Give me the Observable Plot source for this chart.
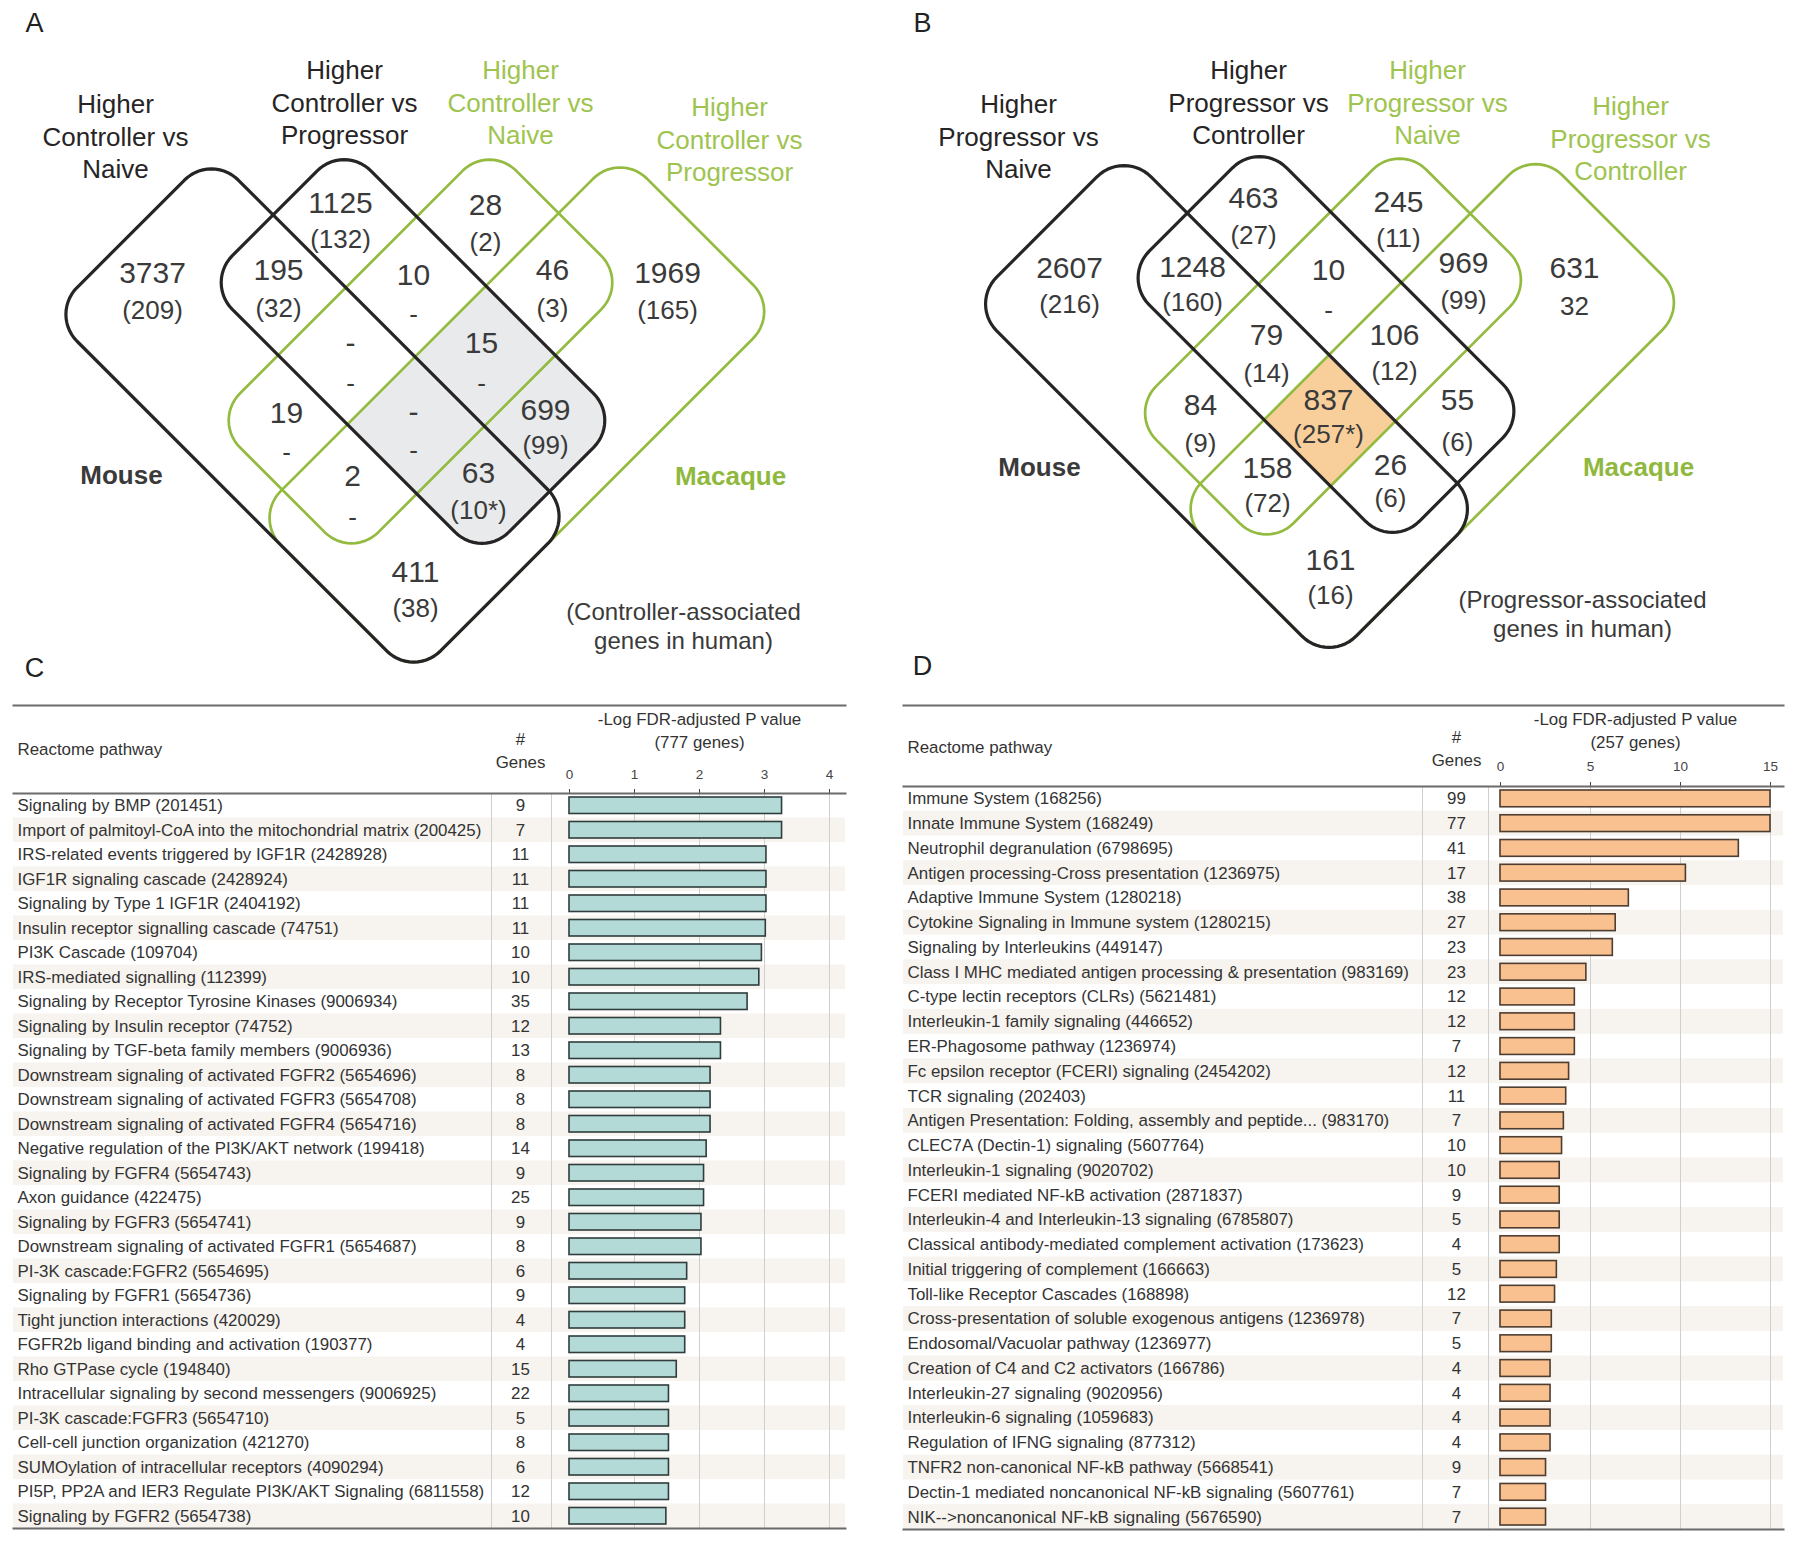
<!DOCTYPE html>
<html>
<head>
<meta charset="utf-8">
<script src="https://cdn.jsdelivr.net/npm/d3@7"></script>
<script src="https://cdn.jsdelivr.net/npm/@observablehq/plot@0.6"></script>
<style>
  html, body { margin: 0; padding: 0; background: #fff; }
  #root { position: relative; width: 1800px; height: 1547px; background: #fff; overflow: hidden; }
</style>
</head>
<body>
<div id="root"></div>
<script>
// ---------------- DATA ----------------
// Venn region order (sets 1..4 = mouse naive, mouse progressor/controller, macaque naive, macaque progressor/controller)
const vennRegions = ["1","2","3","4","1&2","2&3","3&4","1&2&3","2&3&4","1&3","1&2&3&4","2&4","1&3&4","1&2&4","1&4"];
// Venn A (controller-associated genes)
const vennACounts = ["3737","1125","28","1969","195","10","46","-","15","19","-","699","2","63","411"];
const vennAHuman  = ["(209)","(132)","(2)","(165)","(32)","-","(3)","-","-","-","-","(99)","-","(10*)","(38)"];
const vennASets   = ["Higher\nController vs\nNaive","Higher\nController vs\nProgressor","Higher\nController vs\nNaive","Higher\nController vs\nProgressor"];
// Venn B (progressor-associated genes)
const vennBCounts = ["2607","463","245","631","1248","10","969","79","106","84","837","55","158","26","161"];
const vennBHuman  = ["(216)","(27)","(11)","32","(160)","-","(99)","(14)","(12)","(9)","(257*)","(6)","(72)","(6)","(16)"];
const vennBSets   = ["Higher\nProgressor vs\nNaive","Higher\nProgressor vs\nController","Higher\nProgressor vs\nNaive","Higher\nProgressor vs\nController"];

// Panel C
const cNames = [
  "Signaling by BMP (201451)",
  "Import of palmitoyl-CoA into the mitochondrial matrix (200425)",
  "IRS-related events triggered by IGF1R (2428928)",
  "IGF1R signaling cascade (2428924)",
  "Signaling by Type 1 IGF1R (2404192)",
  "Insulin receptor signalling cascade (74751)",
  "PI3K Cascade (109704)",
  "IRS-mediated signalling (112399)",
  "Signaling by Receptor Tyrosine Kinases (9006934)",
  "Signaling by Insulin receptor (74752)",
  "Signaling by TGF-beta family members (9006936)",
  "Downstream signaling of activated FGFR2 (5654696)",
  "Downstream signaling of activated FGFR3 (5654708)",
  "Downstream signaling of activated FGFR4 (5654716)",
  "Negative regulation of the PI3K/AKT network (199418)",
  "Signaling by FGFR4 (5654743)",
  "Axon guidance (422475)",
  "Signaling by FGFR3 (5654741)",
  "Downstream signaling of activated FGFR1 (5654687)",
  "PI-3K cascade:FGFR2 (5654695)",
  "Signaling by FGFR1 (5654736)",
  "Tight junction interactions (420029)",
  "FGFR2b ligand binding and activation (190377)",
  "Rho GTPase cycle (194840)",
  "Intracellular signaling by second messengers (9006925)",
  "PI-3K cascade:FGFR3 (5654710)",
  "Cell-cell junction organization (421270)",
  "SUMOylation of intracellular receptors (4090294)",
  "PI5P, PP2A and IER3 Regulate PI3K/AKT Signaling (6811558)",
  "Signaling by FGFR2 (5654738)"
];
const cGenes = [9,7,11,11,11,11,10,10,35,12,13,8,8,8,14,9,25,9,8,6,9,4,4,15,22,5,8,6,12,10];
const cValues = [3.27,3.27,3.03,3.03,3.03,3.02,2.96,2.92,2.74,2.33,2.33,2.17,2.17,2.17,2.11,2.07,2.07,2.03,2.03,1.81,1.78,1.78,1.78,1.65,1.53,1.53,1.53,1.53,1.53,1.49];
const cTicks = [0,1,2,3,4];
const cTitle = "-Log FDR-adjusted P value\n(777 genes)";

// Panel D
const dNames = [
  "Immune System (168256)",
  "Innate Immune System (168249)",
  "Neutrophil degranulation (6798695)",
  "Antigen processing-Cross presentation (1236975)",
  "Adaptive Immune System (1280218)",
  "Cytokine Signaling in Immune system (1280215)",
  "Signaling by Interleukins (449147)",
  "Class I MHC mediated antigen processing & presentation (983169)",
  "C-type lectin receptors (CLRs) (5621481)",
  "Interleukin-1 family signaling (446652)",
  "ER-Phagosome pathway (1236974)",
  "Fc epsilon receptor (FCERI) signaling (2454202)",
  "TCR signaling (202403)",
  "Antigen Presentation: Folding, assembly and peptide... (983170)",
  "CLEC7A (Dectin-1) signaling (5607764)",
  "Interleukin-1 signaling (9020702)",
  "FCERI mediated NF-kB activation (2871837)",
  "Interleukin-4 and Interleukin-13 signaling (6785807)",
  "Classical antibody-mediated complement activation (173623)",
  "Initial triggering of complement (166663)",
  "Toll-like Receptor Cascades (168898)",
  "Cross-presentation of soluble exogenous antigens (1236978)",
  "Endosomal/Vacuolar pathway (1236977)",
  "Creation of C4 and C2 activators (166786)",
  "Interleukin-27 signaling (9020956)",
  "Interleukin-6 signaling (1059683)",
  "Regulation of IFNG signaling (877312)",
  "TNFR2 non-canonical NF-kB pathway (5668541)",
  "Dectin-1 mediated noncanonical NF-kB signaling (5607761)",
  "NIK-->noncanonical NF-kB signaling (5676590)"
];
const dGenes = [99,77,41,17,38,27,23,23,12,12,7,12,11,7,10,10,9,5,4,5,12,7,5,4,4,4,4,9,7,7];
const dValues = [15.0,15.0,13.24,10.3,7.13,6.4,6.24,4.77,4.13,4.13,4.13,3.81,3.65,3.52,3.42,3.29,3.29,3.29,3.29,3.13,3.03,2.85,2.85,2.78,2.78,2.78,2.78,2.53,2.53,2.53];
const dTicks = [0,5,10,15];
const dTitle = "-Log FDR-adjusted P value\n(257 genes)";

// ---------------- LAYOUT (positions, sizes, styles) ----------------
const FONT = "'Liberation Sans', Arial, Helvetica, sans-serif";
const BLACK = "#262424", GREEN = "#93bb40", GREEN_TEXT = "#9ec44f", NUM = "#3a3a3a";
const TABLE_FS = 16.9;
const SQ = Math.SQRT2;
// shape geometry: centre, half-length a (long axis), half-width b, corner radius r,
// m = +1 long axis runs down-right, m = -1 long axis runs down-left
function mirrorOnBottom(big, a, b, r) {
  // the outer macaque shape shares its bottom corner with the outer mouse shape
  const bx = big.cx + (big.a - big.b) / SQ, by = big.cy + (big.a + big.b) / SQ;
  return {cx: bx + (a - b) / SQ, cy: by - (a + b) / SQ, a, b, r, m: -1, color: GREEN};
}
const vennA1 = {cx: 312, cy: 415, a: 257, b: 114, r: 38, m: 1, color: BLACK};
const vennAShapes = [
  vennA1,
  {cx: 412.5, cy: 351, a: 195.5, b: 98, r: 38, m: 1, color: BLACK},
  {cx: 420, cy: 351, a: 195.5, b: 98, r: 38, m: -1, color: GREEN},
  mirrorOnBottom(vennA1, 259, 113, 38)
];
const vennB1 = {cx: 1226, cy: 406, a: 254, b: 109, r: 38, m: 1, color: BLACK};
const vennBShapes = [
  vennB1,
  {cx: 1325.5, cy: 344, a: 191, b: 97, r: 38, m: 1, color: BLACK},
  {cx: 1332.5, cy: 346, a: 191, b: 97, r: 38, m: -1, color: GREEN},
  mirrorOnBottom(vennB1, 255, 109, 38)
];
// [x, y line1, y line2]
const vennAPos = [[152,273,310],[340,203,239],[485,205,242],[667,273,310],[278,270,308],[413,275,314],[552,270,308],[350,343,383],[481,343,383],[286,413,452],[413,412,450],[545,410,445],[352,476,517],[478,473,510],[415,572,608]];
const vennBPos = [[1069,268,304],[1253,198,235],[1398,202,238],[1574,268,306],[1192,267,302],[1328,270,310],[1463,263,300],[1266,335,373],[1394,335,371],[1200,405,443],[1328,400,434],[1457,400,442],[1267,468,503],[1390,465,498],[1330,560,595]];
const vennASetPos = [[115,135],[344,101],[520,101],[729,138]];
const vennBSetPos = [[1018,135],[1248,101],[1427,101],[1630,137]];
const setColors = [BLACK, BLACK, GREEN_TEXT, GREEN_TEXT];

// ---------------- GEOMETRY HELPERS ----------------
function roundedRect({cx, cy, a, b, r, m}) {
  const n = 14, pts = [];
  const corners = [[a - r, b - r, 0], [-(a - r), b - r, 90], [-(a - r), -(b - r), 180], [a - r, -(b - r), 270]];
  for (const [sc, tc, start] of corners) {
    for (let k = 0; k <= n; k++) {
      const ang = (start + 90 * k / n) * Math.PI / 180;
      const s = sc + r * Math.cos(ang), t = tc + r * Math.sin(ang);
      pts.push([cx + m * (s + t) / SQ, cy + (s - t) / SQ]);
    }
  }
  return pts;
}
function clipPoly(subject, clip) {
  let area = 0;
  for (let i = 0; i < clip.length; i++) {
    const p = clip[i], q = clip[(i + 1) % clip.length];
    area += p[0] * q[1] - q[0] * p[1];
  }
  const sgn = Math.sign(area);
  const cross = (u, v) => u[0] * v[1] - u[1] * v[0];
  const inside = (p, A, B) => sgn * cross([B[0] - A[0], B[1] - A[1]], [p[0] - A[0], p[1] - A[1]]) >= 0;
  const inter = (P, Q, A, B) => {
    const d = [Q[0] - P[0], Q[1] - P[1]], e = [B[0] - A[0], B[1] - A[1]];
    const t = cross([A[0] - P[0], A[1] - P[1]], e) / cross(d, e);
    return [P[0] + t * d[0], P[1] + t * d[1]];
  };
  let out = subject;
  for (let i = 0; i < clip.length && out.length; i++) {
    const A = clip[i], B = clip[(i + 1) % clip.length];
    const inp = out; out = [];
    for (let j = 0; j < inp.length; j++) {
      const P = inp[j], Q = inp[(j + 1) % inp.length];
      const Pin = inside(P, A, B), Qin = inside(Q, A, B);
      if (Pin) { out.push(P); if (!Qin) out.push(inter(P, Q, A, B)); }
      else if (Qin) out.push(inter(P, Q, A, B));
    }
  }
  return out;
}
const toObj = pts => pts.map(([x, y]) => ({x, y}));

const polysA = vennAShapes.map(roundedRect);
const polysB = vennBShapes.map(roundedRect);
const greyA = clipPoly(polysA[1], polysA[3]);
const orangeB = clipPoly(clipPoly(clipPoly(polysB[0], polysB[1]), polysB[2]), polysB[3]);

function regionText(counts, human, pos) {
  const big = [], small = [];
  counts.forEach((c, i) => {
    big.push({x: pos[i][0], y: pos[i][1], t: c});
    small.push({x: pos[i][0], y: pos[i][2], t: human[i]});
  });
  return {big, small};
}
const rtA = regionText(vennACounts, vennAHuman, vennAPos);
const rtB = regionText(vennBCounts, vennBHuman, vennBPos);
const setLabels = [
  ...vennASets.map((t, i) => ({x: vennASetPos[i][0], y: vennASetPos[i][1], t, c: setColors[i]})),
  ...vennBSets.map((t, i) => ({x: vennBSetPos[i][0], y: vennBSetPos[i][1], t, c: setColors[i]}))
];

function shapeMarks(shapes, polys) {
  const order = [2, 3, 0, 1]; // green first, black on top
  return order.map(i => Plot.line(toObj(polys[i]), {
    x: "x", y: "y", curve: "linear-closed",
    stroke: shapes[i].color, strokeWidth: shapes[i].color === BLACK ? 3.2 : 2.7
  }));
}

const venn = Plot.plot({
  width: 1800, height: 690, margin: 0,
  style: {fontFamily: FONT, background: "transparent", overflow: "visible"},
  x: {domain: [0, 1800], range: [0, 1800], axis: null},
  y: {domain: [0, 690], range: [0, 690], axis: null},
  marks: [
    Plot.line(toObj(greyA), {x: "x", y: "y", curve: "linear-closed", fill: "#e8eaeb", stroke: "none"}),
    Plot.line(toObj(orangeB), {x: "x", y: "y", curve: "linear-closed", fill: "#f8cf9b", stroke: "none"}),
    ...shapeMarks(vennAShapes, polysA),
    ...shapeMarks(vennBShapes, polysB),
    Plot.text([...rtA.big, ...rtB.big], {x: "x", y: "y", text: "t", fontSize: 30, fill: NUM}),
    Plot.text([...rtA.small, ...rtB.small], {x: "x", y: "y", text: "t", fontSize: 26, fill: NUM}),
    Plot.text(setLabels, {x: "x", y: "y", text: "t", fill: "c", fontSize: 26, lineHeight: 1.25}),
    Plot.text([{x: 121, y: 475, t: "Mouse", c: "#3a3a3a"}, {x: 1039, y: 467, t: "Mouse", c: "#3a3a3a"},
               {x: 730, y: 476, t: "Macaque", c: "#8fb83e"}, {x: 1638, y: 467, t: "Macaque", c: "#8fb83e"}],
      {x: "x", y: "y", text: "t", fill: "c", fontSize: 26, fontWeight: "bold"}),
    Plot.text([{x: 683, y: 625, t: "(Controller-associated\ngenes in human)"}, {x: 1582, y: 613, t: "(Progressor-associated\ngenes in human)"}],
      {x: "x", y: "y", text: "t", fill: "#3a3a3a", fontSize: 24, lineHeight: 1.17}),
    Plot.text([{x: 34, y: 23, t: "A"}, {x: 922, y: 23, t: "B"}, {x: 34, y: 668, t: "C"}, {x: 922, y: 666, t: "D"}],
      {x: "x", y: "y", text: "t", fill: "#222", fontSize: 27})
  ]
});

function table({names, genes, values, ticks, title, fill, stroke, range, marginLeft, marginRight, marginTop, height, sepDx, genesDx, topRuleDy, titleDy, headDy, tickPadding}) {
  const rows = names.map((name, i) => ({name, genes: genes[i], value: values[i], i}));
  const ruleStyle = {stroke: "#6b6b6b", strokeWidth: 2};
  return Plot.plot({
    width: 900, height, marginTop, marginBottom: 12, marginLeft, marginRight,
    style: {fontFamily: FONT, fontSize: TABLE_FS + "px", color: "#333", background: "transparent", overflow: "visible"},
    x: {domain: [ticks[0], ticks[ticks.length - 1]], range},
    y: {domain: names, padding: 0, round: false, axis: null},
    marks: [
      Plot.cell(rows.filter(d => d.i % 2 === 1), {y: "name", fill: "#f7f3ef", inset: 0}),
      Plot.gridX({ticks: ticks.slice(1), stroke: "#cfcfcf", strokeOpacity: 1, strokeWidth: 1}),
      Plot.ruleX([0], {dx: sepDx[0], stroke: "#cfcfcf", strokeWidth: 1}),
      Plot.ruleX([0], {dx: sepDx[1], stroke: "#cfcfcf", strokeWidth: 1}),
      Plot.barX(rows, {x: "value", y: "name", fill, stroke, strokeWidth: 1.6, insetTop: 4, insetBottom: 4}),
      Plot.text(rows, {y: "name", frameAnchor: "left", lineAnchor: "middle", dx: 4, text: "name", textAnchor: "start", fill: "#333", fontSize: TABLE_FS}),
      Plot.text(rows, {x: () => 0, y: "name", dx: genesDx, text: "genes", fill: "#333", fontSize: TABLE_FS}),
      Plot.axisX({anchor: "top", ticks, tickFormat: d => String(d), tickSize: 5, tickPadding, fontSize: 13.5, label: null, stroke: "#444", fill: "#444"}),
      Plot.frame({anchor: "top", ...ruleStyle}),
      Plot.frame({anchor: "top", dy: topRuleDy, ...ruleStyle}),
      Plot.frame({anchor: "bottom", ...ruleStyle}),
      Plot.text([title], {x: () => (ticks[0] + ticks[ticks.length - 1]) / 2, frameAnchor: "top", lineAnchor: "middle", dy: titleDy, lineHeight: 1.33, fill: "#333", fontSize: TABLE_FS}),
      Plot.text(["#\nGenes"], {x: () => 0, dx: genesDx, frameAnchor: "top", lineAnchor: "middle", dy: headDy, lineHeight: 1.33, fill: "#333", fontSize: TABLE_FS}),
      Plot.text(["Reactome pathway"], {frameAnchor: "top-left", lineAnchor: "middle", dx: 4, dy: headDy, textAnchor: "start", fill: "#333", fontSize: TABLE_FS})
    ]
  });
}

const plotC = table({
  names: cNames, genes: cGenes, values: cValues, ticks: cTicks, title: cTitle,
  fill: "#b4dad7", stroke: "#2f3d3c", range: [569, 829],
  marginLeft: 13, marginRight: 55, marginTop: 103, height: 850,
  sepDx: [-78, -18], genesDx: -49, topRuleDy: -88, titleDy: -64, headDy: -44, tickPadding: 10
});
const plotD = table({
  names: dNames, genes: dGenes, values: dValues, ticks: dTicks, title: dTitle,
  fill: "#f9c090", stroke: "#4e3d31", range: [600, 870],
  marginLeft: 3, marginRight: 17, marginTop: 96, height: 851,
  sepDx: [-78, -12], genesDx: -44, topRuleDy: -81, titleDy: -57, headDy: -39, tickPadding: 11
});

const root = document.getElementById("root");
function place(node, left, top) {
  node.style.position = "absolute";
  node.style.left = left + "px";
  node.style.top = top + "px";
  root.appendChild(node);
}
place(plotC, 0, 690);
place(plotD, 900, 690);
place(venn, 0, 0);
</script>
</body>
</html>
